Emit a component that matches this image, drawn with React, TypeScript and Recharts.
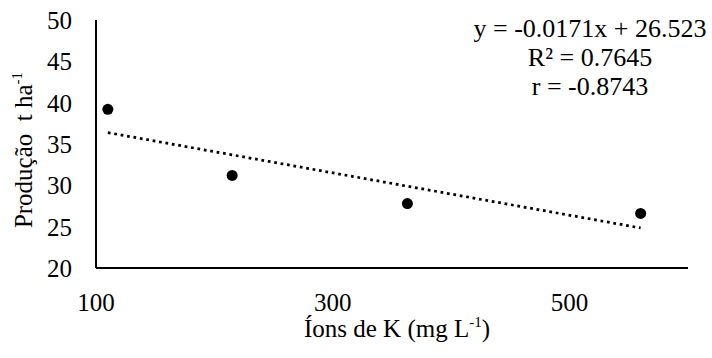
import React from "react";
import { ComposedChart, Scatter, XAxis, YAxis, ReferenceLine } from "recharts";

const ionsK = [110, 215, 363, 560];
const producao = [39.2, 31.2, 27.8, 26.6];
const xTicks = [100, 300, 500];
const yTicks = [20, 25, 30, 35, 40, 45, 50];
const equationLines = ["y = -0.0171x + 26.523", "R² = 0.7645", "r = -0.8743"];

const points = ionsK.map((x, i) => ({ x, y: producao[i] }));

// least-squares trendline from the data
const n = ionsK.length;
const mx = ionsK.reduce((a, b) => a + b, 0) / n;
const my = producao.reduce((a, b) => a + b, 0) / n;
let sxy = 0;
let sxx = 0;
ionsK.forEach((x, i) => {
  sxy += (x - mx) * (producao[i] - my);
  sxx += (x - mx) * (x - mx);
});
const slope = sxy / sxx;
const intercept = my - slope * mx;
const xMin = Math.min(...ionsK);
const xMax = Math.max(...ionsK);
const trend = [
  { x: xMin, y: intercept + slope * xMin },
  { x: xMax, y: intercept + slope * xMax },
];

const FONT = "Liberation Serif";
const FS = 25;
const EQ_FS = 26;
const txt = { fontFamily: FONT };
const globalCss = "svg text, svg tspan { font-family: 'Liberation Serif', serif !important; }";

export default function App() {
  return (
    <div style={{ position: "absolute", left: 0, top: 0, width: 712, height: 358, background: "#fff", fontFamily: FONT }}>
      <style>{globalCss}</style>
      <ComposedChart
        width={712}
        height={358}
        margin={{ top: 20, right: 24, bottom: 30, left: 36 }}
      >
        <XAxis
          type="number"
          dataKey="x"
          domain={[100, 600]}
          ticks={xTicks}
          allowDataOverflow
          height={60}
          axisLine={{ stroke: "#000", strokeWidth: 2 }}
          tickLine={false}
          tickSize={0}
          tickMargin={25}
          tick={{ fill: "#000", fontSize: FS, fontFamily: FONT }}
        />
        <YAxis
          type="number"
          dataKey="y"
          domain={[20, 50]}
          ticks={yTicks}
          allowDataOverflow
          width={60}
          axisLine={{ stroke: "#000", strokeWidth: 2 }}
          tickLine={false}
          tickSize={0}
          tickMargin={24}
          tick={{ fill: "#000", fontSize: FS, fontFamily: FONT }}
        />
        <ReferenceLine
          segment={trend}
          stroke="#000"
          strokeWidth={2.75}
          strokeDasharray="2.75 3.75"
        />
        <Scatter
          data={points}
          isAnimationActive={false}
          fill="#000"
          shape={(p: any) => <circle cx={p.cx} cy={p.cy} r={5.5} fill="#000" />}
        />
      </ComposedChart>
      <svg
        width={712}
        height={358}
        style={{ position: "absolute", left: 0, top: 0, pointerEvents: "none" }}
      >
        <text x={590} y={37} textAnchor="middle" fontSize={EQ_FS} fontFamily={FONT} style={txt}>{equationLines[0]}</text>
        <text x={590} y={66} textAnchor="middle" fontSize={EQ_FS} fontFamily={FONT} style={txt}>{equationLines[1]}</text>
        <text x={590} y={95} textAnchor="middle" fontSize={EQ_FS} fontFamily={FONT} style={txt}>{equationLines[2]}</text>
        <text x={397} y={337} textAnchor="middle" fontSize={FS} fontFamily={FONT} style={txt}>
          Íons de K (mg L
          <tspan dy={-10} fontSize={15}>-1</tspan>
          <tspan dy={10} fontSize={FS}>)</tspan>
        </text>
        <text x={32} y={150} textAnchor="middle" fontSize={FS} fontFamily={FONT} style={txt} transform="rotate(-90 32 150)">
          {"Produção\u00A0\u00A0t ha"}
          <tspan dy={-10} fontSize={15}>-1</tspan>
        </text>
      </svg>
    </div>
  );
}
